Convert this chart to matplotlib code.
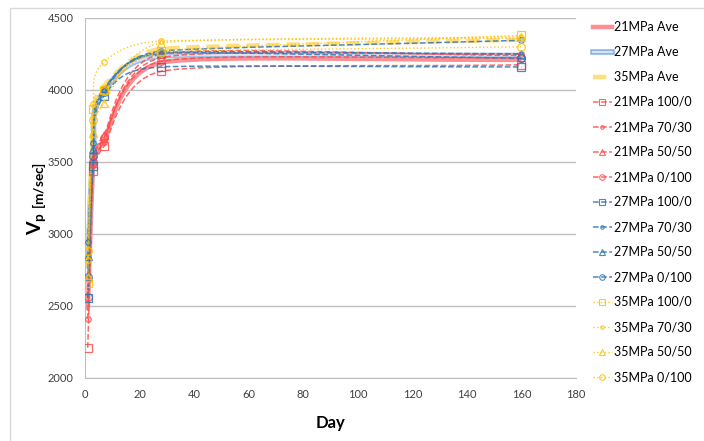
import numpy as np
import matplotlib
matplotlib.use("Agg")
import matplotlib.pyplot as plt
from matplotlib.path import Path
from matplotlib.patches import PathPatch, Rectangle
from matplotlib.lines import Line2D
import matplotlib.patheffects as pe

plt.rcParams['font.family'] = ['Lato', 'DejaVu Sans']
plt.rcParams['mathtext.fontset'] = 'custom'
plt.rcParams['mathtext.rm'] = 'Lato'
plt.rcParams['mathtext.bf'] = 'Lato:bold'

days = [1, 3, 7, 28, 160]

# 21 MPa
vp_21_ave = [2470, 3470, 3650, 4190, 4210]
vp_21_100 = [2210, 3440, 3610, 4130, 4175]
vp_21_70 = [2410, 3480, 3640, 4225, 4250]
vp_21_50 = [2700, 3520, 3690, 4250, 4240]
vp_21_0 = [2560, 3500, 3670, 4200, 4225]
# 27 MPa
vp_27_ave = [2760, 3560, 3990, 4235, 4240]
vp_27_100 = [2556, 3470, 3960, 4160, 4160]
vp_27_70 = [2944, 3630, 4010, 4270, 4345]
vp_27_50 = [2850, 3590, 4000, 4260, 4250]
vp_27_0 = [2700, 3540, 3985, 4255, 4220]
# 35 MPa
vp_35_ave = [2765, 3800, 4030, 4285, 4350]
vp_35_100 = [2660, 3868, 4000, 4270, 4380]
vp_35_70 = [2820, 3900, 4194, 4340, 4360]
vp_35_50 = [2700, 3700, 3910, 4326, 4370]
vp_35_0 = [2880, 3790, 3990, 4260, 4300]

RED = '#FF4B4B'
BLUE = '#2E75B6'
YEL = '#FFC000'

XPX = 491 / 180  # px per day
YPX = 360 / 2500  # px per m/s


def smooth_path(x, y):
    # excel-like smoothed line, bezier through the points
    pts = np.column_stack([x, y]).astype(float)
    scr = pts * [XPX, YPX]
    n = len(pts)
    seg = [np.hypot(*(scr[i + 1] - scr[i])) for i in range(n - 1)]
    verts = [pts[0]]
    codes = [Path.MOVETO]

    def ctrl(i, j):
        # control point next to point i, on the side of point j
        a = max(i - 1, 0)
        b = min(i + 1, n - 1)
        t = scr[b] - scr[a]
        t = t / np.hypot(*t)
        d_here = seg[min(i, j)]
        other = [seg[k] for k in (i - 1, i) if 0 <= k < n - 1 and k != min(i, j)]
        d = min([d_here] + other) * 0.45 if other else d_here / 3
        d = min(d, d_here / 2)
        sign = 1 if j > i else -1
        return pts[i] + sign * t * d / [XPX, YPX]

    for i in range(n - 1):
        verts += [ctrl(i, i + 1), ctrl(i + 1, i), pts[i + 1]]
        codes += [Path.CURVE4] * 3
    return Path(verts, codes)


fig = plt.figure(figsize=(7.04, 4.41), dpi=100)
ax = fig.add_axes([85 / 704, 1 - 378 / 441, 491 / 704, 360 / 441])

# outer chart frame
fig.patches.append(Rectangle((10 / 704, -0.1), 1.2, 1 - 8 / 441 + 0.1,
                             transform=fig.transFigure, fill=False,
                             edgecolor='#D9D9D9', linewidth=1))

series = [
    ('21MPa Ave', vp_21_ave, dict(color='#FF7C80', lw=3.2, ls='-'), None),
    ('27MPa Ave', vp_27_ave, dict(color='#E4EEF8', lw=1.4, ls='-',
                                 path_effects=[pe.Stroke(linewidth=4, foreground='#8DB4E2'), pe.Normal()]), None),
    ('35MPa Ave', vp_35_ave, dict(color='#FFD966', lw=3.2, ls=(0, (3, 1.5))), None),
    ('21MPa 100/0', vp_21_100, dict(color=RED, lw=1.1, ls='--'), 's'),
    ('21MPa 70/30', vp_21_70, dict(color=RED, lw=1.1, ls='--'), 'o'),
    ('21MPa 50/50', vp_21_50, dict(color=RED, lw=1.1, ls='--'), '^'),
    ('21MPa 0/100', vp_21_0, dict(color=RED, lw=1.1, ls='--'), 'o'),
    ('27MPa 100/0', vp_27_100, dict(color=BLUE, lw=1.1, ls='--'), 's'),
    ('27MPa 70/30', vp_27_70, dict(color=BLUE, lw=1.1, ls='--'), 'o'),
    ('27MPa 50/50', vp_27_50, dict(color=BLUE, lw=1.1, ls='--'), '^'),
    ('27MPa 0/100', vp_27_0, dict(color=BLUE, lw=1.1, ls='--'), 'o'),
    ('35MPa 100/0', vp_35_100, dict(color=YEL, lw=1.0, ls=':'), 's'),
    ('35MPa 70/30', vp_35_70, dict(color=YEL, lw=1.0, ls=':'), 'o'),
    ('35MPa 50/50', vp_35_50, dict(color=YEL, lw=1.0, ls=':'), '^'),
    ('35MPa 0/100', vp_35_0, dict(color=YEL, lw=1.0, ls=':'), 'o'),
]

handles = []
for i, (label, vals, st, mk) in enumerate(series):
    alpha = 0.85
    patch = PathPatch(smooth_path(days, vals), fill=False, edgecolor=st['color'],
                      linewidth=st['lw'], linestyle=st['ls'], alpha=alpha,
                      zorder=2 + i * 0.01)
    if 'path_effects' in st:
        patch.set_path_effects(st['path_effects'])
    ax.add_patch(patch)
    ms = 4 if label.endswith('70/30') else 5.5
    if mk:
        ax.plot(days, vals, ls='none', marker=mk, ms=ms, mfc='none',
                mec=st['color'], mew=0.9, alpha=alpha, zorder=3 + i * 0.01)
    h = Line2D([], [], color=st['color'], lw=st['lw'], ls=st['ls'],
               marker=mk if mk else None, ms=ms - 1.5, mfc='none',
               mec=st['color'], mew=0.8, alpha=alpha, label=label)
    if 'path_effects' in st:
        h.set_path_effects(st['path_effects'])
    handles.append(h)

ax.set_xlim(0, 180)
ax.set_ylim(2000, 4500)
ax.set_xticks(range(0, 181, 20))
ax.set_yticks(range(2000, 4501, 500))
ax.tick_params(length=0, labelsize=8, colors='#404040', pad=8)
ax.grid(axis='y', color='#BFBFBF', lw=1)
ax.set_axisbelow(True)
for s in ['top', 'right']:
    ax.spines[s].set_visible(False)
for s in ['left', 'bottom']:
    ax.spines[s].set_color('#BFBFBF')

ax.set_xlabel('Day', fontsize=12, fontweight='bold', labelpad=11)
ax.set_ylabel(r'$\mathbf{V}_{\mathbf{p\ [m/sec]}}$', fontsize=14, labelpad=-1)

fig.legend(handles=handles, loc='upper left', bbox_to_anchor=(588 / 704, 1 - 16 / 441),
           frameon=False, fontsize=9, handlelength=1.5, handletextpad=0.15,
           labelspacing=1.04, borderaxespad=0)

fig.savefig('out.png', dpi=100)
